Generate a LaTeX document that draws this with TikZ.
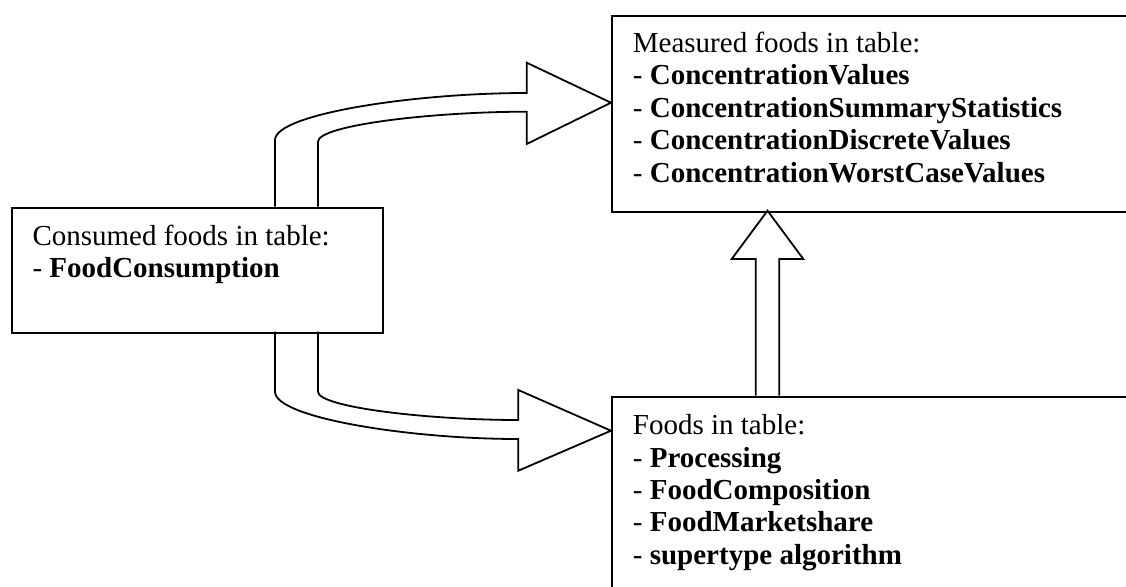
\documentclass[tikz,border=0pt]{standalone}
\usepackage{fontspec}
\setmainfont{Liberation Serif}
\begin{document}
\begin{tikzpicture}[x=1pt,y=-1pt]
\tikzset{tbl/.style={draw,line width=2pt,anchor=north west,inner sep=0pt},
  txt/.style={anchor=north west,inner sep=0pt,align=left,font=\fontsize{29}{32.4}\selectfont},
  blockarrow/.style={draw,line width=1.8pt,fill=white,line join=miter}}
\useasboundingbox (0,0) rectangle (1126,586);
\clip (0,0) rectangle (1126,586);

\coordinate (up1) at (275,206.7);
\coordinate (up2) at (318,206.7);
\coordinate (dn1) at (275,331.7);
\coordinate (dn2) at (318,331.7);
\coordinate (vt1) at (755.7,395.7);
\coordinate (vt2) at (779.3,395.7);

\path[blockarrow] (up1) -- (275,140) .. controls (275,114) and (414,93) .. (526.7,93)
  -- (526.7,62.7) -- (611,102.7) -- (526.7,144) -- (526.7,111.7)
  .. controls (433.2,111.7) and (318,125.1) .. (318,141.7) -- (up2);
\path[blockarrow] (dn1) -- (275,391.7) .. controls (275,417.8) and (409.3,439) .. (518.3,439)
  -- (518.3,470.7) -- (611,430.7) -- (518.3,390) -- (518.3,420)
  .. controls (428.6,420) and (318,407.3) .. (318,391.7) -- (dn2);
\path[blockarrow] (vt1) -- (755.7,259) -- (731.7,259) -- (767.5,210.7)
  -- (803.3,259) -- (779.3,259) -- (vt2);

\node[tbl,minimum width=371pt,minimum height=125pt] (consumed) at (11,206.7) {};
\node[tbl,minimum width=540pt,minimum height=195.7pt] (measured) at (611,15) {};
\node[tbl,minimum width=540pt,minimum height=220pt] (foods) at (611,395.7) {};

\node[txt] (consumedtxt) at (32.3,222.3) {\strut Consumed foods in table:\\- \textbf{FoodConsumption}};
\node[txt] (measuredtxt) at (632.7,29.6) {\strut Measured foods in table:\\
  - \textbf{ConcentrationValues}\\- \textbf{ConcentrationSummaryStatistics}\\
  - \textbf{ConcentrationDiscreteValues}\\- \textbf{ConcentrationWorstCaseValues}};
\node[txt] (foodstxt) at (632.7,411.9) {\strut Foods in table:\\- \textbf{Processing}\\
  - \textbf{FoodComposition}\\- \textbf{FoodMarketshare}\\- \textbf{supertype algorithm}};
\end{tikzpicture}
\end{document}
